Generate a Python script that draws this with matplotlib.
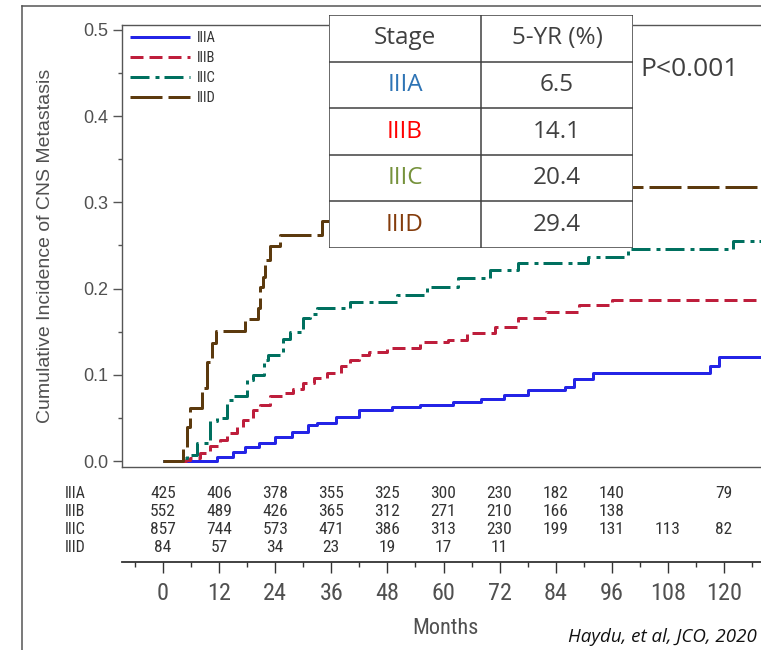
import matplotlib
matplotlib.use("Agg")
import matplotlib.pyplot as plt
from matplotlib.lines import Line2D
from matplotlib.patches import Rectangle
from matplotlib.ticker import MultipleLocator
from matplotlib import font_manager

plt.rcParams['lines.scale_dashes'] = False

# ---------------- data ----------------
stages = ["IIIA", "IIIB", "IIIC", "IIID"]
five_year_pct = ["6.5", "14.1", "20.4", "29.4"]

# cumulative incidence step functions (months, incidence)
t_IIIA = [0, 11.5, 15, 17.5, 20.5, 24, 27.5, 31, 33, 37, 42, 49, 55, 62, 68, 73, 78, 86, 88, 92, 117, 119, 128]
ci_IIIA = [0, .005, .010, .016, .021, .028, .034, .042, .044, .051, .059, .063, .065, .069, .072, .077, .082,
           .086, .095, .102, .110, .121, .121]

t_IIIB = [0, 5, 5.8, 7.9, 10, 12.2, 13.6, 15.8, 17.2, 19.3, 20.7, 22.9, 25.7, 27.9, 30, 32.2, 35, 38, 40, 42,
          44, 48, 55, 61, 65, 71, 76, 82, 89, 96, 128]
ci_IIIB = [0, .001, .003, .009, .017, .024, .032, .040, .048, .059, .065, .075, .079, .084, .090, .096, .102,
           .110, .117, .123, .127, .131, .138, .140, .148, .156, .166, .173, .181, .187, .187]

t_IIIC = [0, 4.5, 5.1, 7.2, 10, 11.5, 13.6, 15, 17.9, 19.3, 21.5, 22.5, 25.7, 27.2, 30, 31.4, 33, 40, 50, 56.5,
          63, 70, 76, 91, 99.5, 122, 128]
ci_IIIC = [0, .003, .007, .021, .046, .050, .071, .075, .094, .100, .117, .123, .142, .150, .166, .171, .177,
           .185, .192, .202, .212, .222, .230, .237, .246, .255, .255]

t_IIID = [0, 4.3, 5.1, 5.8, 8.3, 9.4, 10.4, 11.3, 17.5, 20.3, 20.7, 21.4, 21.8, 22.9, 25, 34, 46, 70, 128]
ci_IIID = [0, .015, .040, .061, .085, .115, .137, .151, .165, .178, .202, .214, .233, .249, .262, .278, .294,
           .318, .318]

risk_months = [0, 12, 24, 36, 48, 60, 72, 84, 96, 108, 120]
at_risk_IIIA = [425, 406, 378, 355, 325, 300, 230, 182, 140, None, 79]
at_risk_IIIB = [552, 489, 426, 365, 312, 271, 210, 166, 138, None, None]
at_risk_IIIC = [857, 744, 573, 471, 386, 313, 230, 199, 131, 113, 82]
at_risk_IIID = [84, 57, 34, 23, 19, 17, 11, None, None, None, None]

# ---------------- fonts ----------------
installed = {f.name for f in font_manager.fontManager.ttflist}


def first_installed(names):
    for n in names:
        if n in installed:
            return n
    return "DejaVu Sans"


arial_name = first_installed(["Liberation Sans", "Arimo", "DejaVu Sans"])
narrow_name = first_installed(["Liberation Sans Narrow", "Arial Narrow", "Roboto Condensed"])
if narrow_name == "DejaVu Sans":
    # no condensed face: use the regular sans at a reduced size
    narrow_name, narrow_scale = arial_name, 0.84
else:
    narrow_scale = 1.0
arial = [arial_name, "DejaVu Sans"]
narrow = [narrow_name, "DejaVu Sans"]
office = ["Open Sans", "DejaVu Sans"]


def nsz(s):
    return s * narrow_scale


# ---------------- styling ----------------
W, H = 761, 650
PX = 0.72  # points per pixel at 100 dpi

line_colors = ["#2424e6", "#be1e3c", "#00705f", "#5c3a0e"]
line_styles = ["-", (0, (13 * PX, 6 * PX)), (0, (19 * PX, 6 * PX, 4 * PX, 5 * PX)), (0, (32 * PX, 6 * PX))]
table_text_colors = ["#2e74b5", "#ff0000", "#76923c", "#843c0c"]
grey = "#555555"
text_grey = "#505050"

fig = plt.figure(figsize=(W / 100, H / 100), dpi=100)
fig.patch.set_facecolor("white")


def fx(px):
    return px / W


def fy(py):
    return 1 - py / H


# month <-> pixel scale of the plotting area
m_per_px = 120 / (724 - 163)
x_left = (122 - 163) * m_per_px
x_right = (761 - 163) * m_per_px

# ---------------- main curves ----------------
ax = fig.add_axes([fx(122), fy(467), fx(761) - fx(122), fy(25) - fy(467)])
ax.set_xlim(x_left, x_right)
ax.set_ylim((461 - 467) / 862, (461 - 25) / 862)

series = [(t_IIIA, ci_IIIA), (t_IIIB, ci_IIIB), (t_IIIC, ci_IIIC), (t_IIID, ci_IIID)]
for (t, ci), name, c, ls in zip(series, stages, line_colors, line_styles):
    ax.step(t, ci, where="post", color=c, linestyle=ls, linewidth=3 * PX, label=name,
            solid_capstyle="butt", dash_capstyle="butt")

for side in ["left", "top", "bottom"]:
    ax.spines[side].set_color(grey)
    ax.spines[side].set_linewidth(1.0)
ax.spines["right"].set_visible(False)
ax.set_xticks([])
ax.yaxis.set_minor_locator(MultipleLocator(0.05))
ax.set_yticks([0, .1, .2, .3, .4, .5])
ax.set_yticklabels(["0.0", "0.1", "0.2", "0.3", "0.4", "0.5"], family=arial)
ax.tick_params(axis="y", which="major", length=6.5, width=1.0, color=grey, pad=3.6,
               labelsize=13, labelcolor=text_grey)
ax.tick_params(axis="y", which="minor", length=3, width=1.0, color=grey)

fig.text(fx(46), fy(246), "Cumulative Incidence of CNS Metastasis", rotation=90,
         ha="center", va="center", fontsize=14, color=text_grey, family=arial)

leg = ax.legend(loc="upper left", frameon=False, prop={"family": narrow, "size": nsz(10.5)},
                handlelength=60 * PX / nsz(10.5), handletextpad=0.45, labelspacing=0.42,
                borderaxespad=0, borderpad=0,
                bbox_to_anchor=((130 - 122) / (761 - 122), 1 - 6 / 442))
for txt in leg.get_texts():
    txt.set_color("#333333")

# ---------------- 5-year table ----------------
tab = fig.add_axes([fx(329), fy(248), fx(633) - fx(329), fy(15) - fy(248)])
tab.set_xlim(0, 2)
tab.set_ylim(0, 5)
tab.axis("off")
tab.add_patch(Rectangle((0, 0), 2, 5, facecolor="white", edgecolor="#404040", linewidth=1.1, zorder=1))
for r in range(1, 5):
    tab.plot([0, 2], [r, r], color="#404040", linewidth=1.1, zorder=2)
tab.plot([1, 1], [0, 5], color="#404040", linewidth=1.1, zorder=2)
tab.text(0.5, 4.5, "Stage", ha="center", va="center", fontsize=17.5, color="#404040", family=office)
tab.text(1.5, 4.5, "5-YR (%)", ha="center", va="center", fontsize=17.5, color="#404040", family=office)
for i, (st, val, tc) in enumerate(zip(stages, five_year_pct, table_text_colors)):
    yc = 3.5 - i
    tab.text(0.5, yc, st, ha="center", va="center", fontsize=17.5, color=tc, family=office)
    tab.text(1.5, yc, val, ha="center", va="center", fontsize=17.5, color="#404040", family=office)

fig.text(fx(640), fy(70), "P<0.001", ha="left", va="center", fontsize=19, color="#404040", family=office)

# ---------------- numbers at risk ----------------
risk = fig.add_axes([fx(122), fy(562), fx(761) - fx(122), fy(480) - fy(562)])
risk.set_xlim(x_left, x_right)
risk.set_ylim(0, 1)
for side in ["left", "top", "right"]:
    risk.spines[side].set_visible(False)
risk.spines["bottom"].set_color("#333333")
risk.spines["bottom"].set_linewidth(1.3)
risk.set_yticks([])
risk.xaxis.set_minor_locator(MultipleLocator(6))
risk.set_xticks(risk_months)
risk.set_xticklabels([str(m) for m in risk_months], family=narrow)
risk.tick_params(axis="x", which="major", length=8, width=1.0, color="#333333", pad=6.5,
                 labelsize=nsz(17.5), labelcolor=text_grey)
risk.tick_params(axis="x", which="minor", length=3.6, width=1.0, color="#333333")

row_py = [493, 511, 529, 547]
rows = [at_risk_IIIA, at_risk_IIIB, at_risk_IIIC, at_risk_IIID]
for name, counts, py in zip(stages, rows, row_py):
    yy = (562 - py) / (562 - 480)
    fig.text(fx(65), fy(py), name, ha="left", va="center", fontsize=nsz(11.5), color="#333333",
             family=narrow)
    for m, n in zip(risk_months, counts):
        if n is not None:
            risk.text(m, yy, str(n), ha="center", va="center", fontsize=nsz(12.5), color="#333333",
                      family=narrow)

fig.text(fx(445), fy(628), "Months", ha="center", va="center", fontsize=nsz(16), color=text_grey,
         family=narrow)
fig.text(fx(757), fy(637), "Haydu, et al, JCO, 2020", ha="right", va="center", fontsize=13.5,
         style="italic", color="#111111", family=office)

# ---------------- outer frame ----------------
fig.add_artist(Line2D([fx(22), 1.0], [fy(6), fy(6)], color=grey, linewidth=1.1))
fig.add_artist(Line2D([fx(22), fx(22)], [fy(6), 0.0], color=grey, linewidth=1.1))

fig.savefig("out.png", dpi=100, facecolor="white")
